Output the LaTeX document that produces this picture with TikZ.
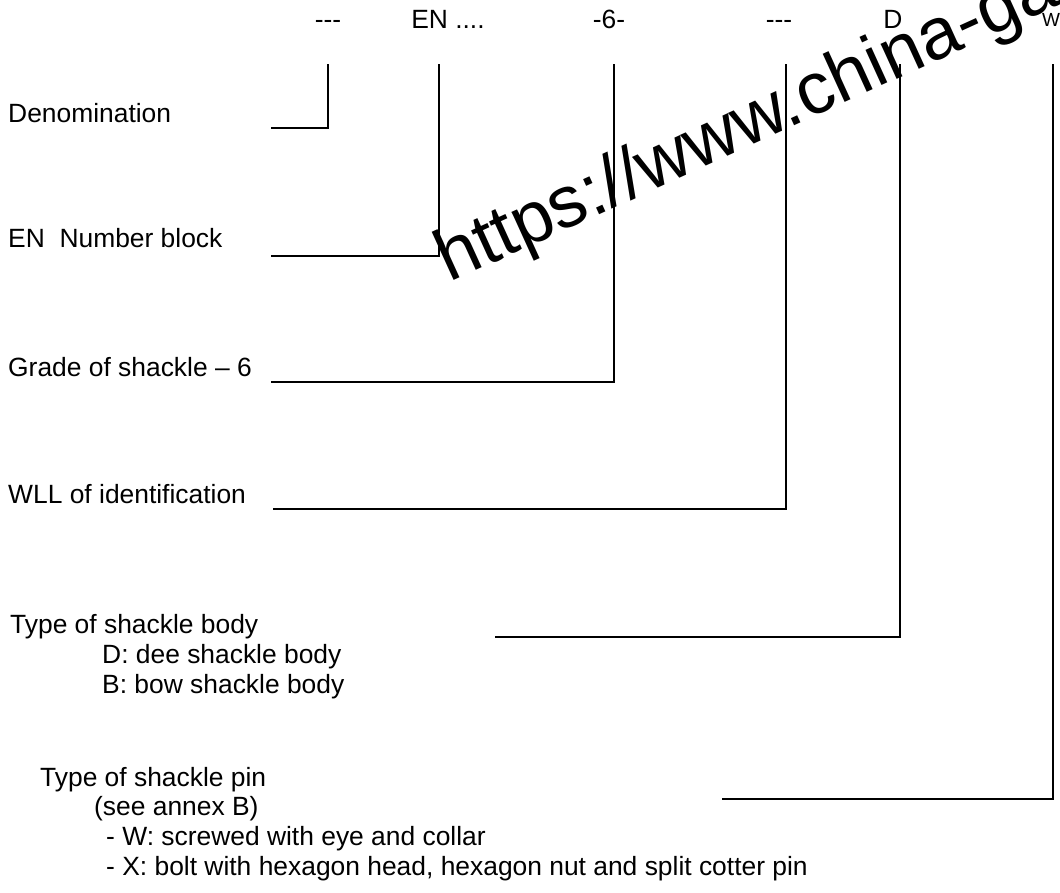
\documentclass[tikz,border=0pt]{standalone}
\usepackage{fontspec}
\setmainfont{Liberation Sans}
\begin{document}
\begin{tikzpicture}[x=1pt,y=-1pt,
  lbl/.style={anchor=base west,inner sep=0pt,font=\fontsize{26.4}{30}\selectfont},
  top/.style={anchor=base,inner sep=0pt,font=\fontsize{26.4}{30}\selectfont},
  conn/.style={line width=2pt,line join=miter}]
\useasboundingbox (0,0) rectangle (1060,892);
\begin{scope}
\clip (0,0) rectangle (1060,892);
\node[anchor=base west,inner sep=0pt,rotate=24.5,font=\fontsize{73}{80}\selectfont] (wm) at (449,283) {https://www.china-gauges};
\end{scope}
% top codes
\node[top] (t1) at (328,28) {{-}{-}{-}};
\node[top] (t2) at (448,28) {EN ....};
\node[top] (t3) at (609,28) {-6-};
\node[top] (t4) at (779,28) {{-}{-}{-}};
\node[top] (t5) at (893,28) {D};
\node[anchor=base west,inner sep=0pt,font=\fontsize{19}{22}\selectfont] (t6) at (1042,26) {W};
% left labels
\node[lbl] (l1) at (8,122) {Denomination};
\node[lbl] (l2) at (8,247) {EN\ \ Number block};
\node[lbl] (l3) at (8,376) {Grade of shackle -- 6};
\node[lbl] (l4) at (8,503) {WLL of identification};
\node[lbl] (l5) at (10,633) {Type of shackle body};
\node[lbl] (l5a) at (102,663) {D: dee shackle body};
\node[lbl] (l5b) at (102,693) {B: bow shackle body};
\node[lbl] (l6) at (40,786) {Type of shackle pin};
\node[lbl] (l6a) at (94,815) {(see annex B)};
\node[lbl] (l6b) at (106,845) {- W: screwed with eye and collar};
\node[lbl] (l6c) at (106,875) {- X: bolt with hexagon head, hexagon nut and split cotter pin};
% connector points
\coordinate (s1) at (271,128); \coordinate (e1) at (328,64);
\coordinate (s2) at (271,256); \coordinate (e2) at (439,64);
\coordinate (s3) at (271,382); \coordinate (e3) at (614,64);
\coordinate (s4) at (273,509); \coordinate (e4) at (786,64);
\coordinate (s5) at (495,637); \coordinate (e5) at (900,64);
\coordinate (s6) at (722,799); \coordinate (e6) at (1053,64);
\draw[conn] (s1) -| (e1);
\draw[conn] (s2) -| (e2);
\draw[conn] (s3) -| (e3);
\draw[conn] (s4) -| (e4);
\draw[conn] (s5) -| (e5);
\draw[conn] (s6) -| (e6);
\end{tikzpicture}
\end{document}
